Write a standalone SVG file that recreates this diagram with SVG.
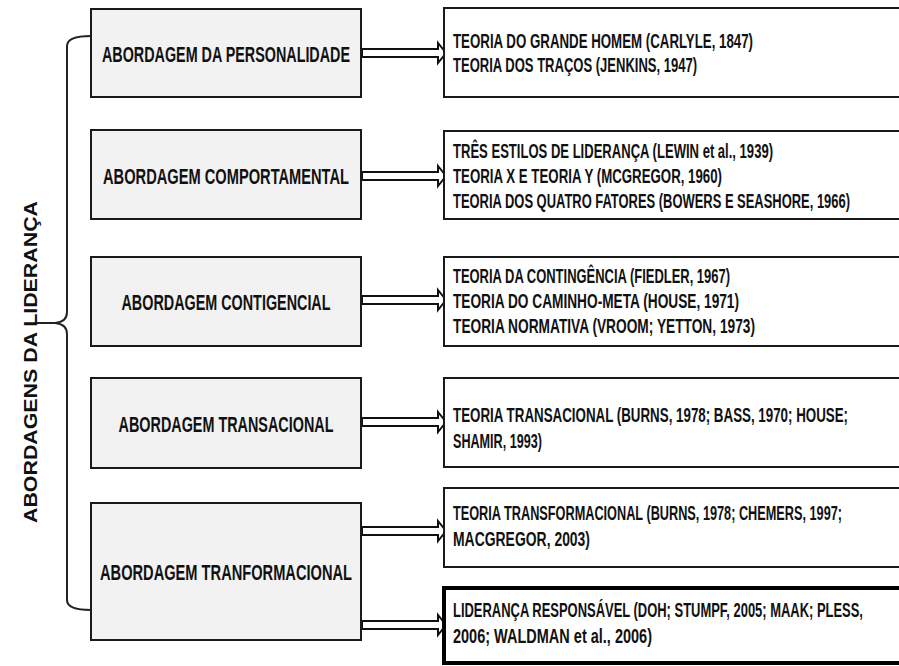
<svg xmlns="http://www.w3.org/2000/svg" width="899" height="666" viewBox="0 0 899 666">
<style>
.lb{fill:#f2f2f2;stroke:#1a1a1a;stroke-width:2}
.rb{fill:#fff;stroke:#1a1a1a;stroke-width:2}
.rbt{fill:#fff;stroke:#000;stroke-width:4}
.lt{font-family:"Liberation Sans",Arial,sans-serif;font-weight:bold;font-size:22.5px;fill:#111;text-anchor:middle}
.rt{font-family:"Liberation Sans",Arial,sans-serif;font-weight:bold;font-size:19.5px;fill:#111}
.arr{fill:#fff;stroke:#111;stroke-width:2;stroke-linejoin:miter}
.brace{fill:none;stroke:#222;stroke-width:2}
.title{font-family:"Liberation Sans",Arial,sans-serif;font-weight:bold;font-size:19px;fill:#111;text-anchor:middle}
</style>
<rect width="899" height="666" fill="#fff"/>
<g id="connectors">
<path class="arr" d="M362,49 H438 V43 L446,53 L438,63 V57 H362 Z"/>
<path class="arr" d="M362,172 H438 V166 L446,176 L438,186 V180 H362 Z"/>
<path class="arr" d="M362,296 H438 V290 L446,300 L438,310 V304 H362 Z"/>
<path class="arr" d="M362,418 H438 V412 L446,422 L438,432 V426 H362 Z"/>
<path class="arr" d="M362,527 H438 V521 L446,531 L438,541 V535 H362 Z"/>
<path class="arr" d="M362,621 H438 V615 L446,625 L438,635 V629 H362 Z"/>
<path class="brace" d="M91,36 Q67,36 67,46 L67,312 Q67,322 55,323 L36,323 M55,323 Q67,324 67,334 L67,600 Q67,610 91,610"/>
</g>
<g id="title">
<text class="title" transform="translate(37,362) rotate(-90)" textLength="322" lengthAdjust="spacingAndGlyphs">ABORDAGENS DA LIDERANÇA</text>
</g>
<g id="personalidade">
<rect class="lb" x="91" y="9" width="270" height="88"/>
<text class="lt" transform="matrix(0.64 0 0 1 226 62)" textLength="387.5" lengthAdjust="spacingAndGlyphs">ABORDAGEM DA PERSONALIDADE</text>
</g>
<g id="comportamental">
<rect class="lb" x="91" y="130" width="270" height="89"/>
<text class="lt" transform="matrix(0.64 0 0 1 226 184)" textLength="384.4" lengthAdjust="spacingAndGlyphs">ABORDAGEM COMPORTAMENTAL</text>
</g>
<g id="contigencial">
<rect class="lb" x="91" y="257" width="270" height="89"/>
<text class="lt" transform="matrix(0.64 0 0 1 226 310)" textLength="326.6" lengthAdjust="spacingAndGlyphs">ABORDAGEM CONTIGENCIAL</text>
</g>
<g id="transacional">
<rect class="lb" x="91" y="378" width="270" height="90"/>
<text class="lt" transform="matrix(0.64 0 0 1 226 432)" textLength="335.9" lengthAdjust="spacingAndGlyphs">ABORDAGEM TRANSACIONAL</text>
</g>
<g id="transformacional">
<rect class="lb" x="91" y="503" width="270" height="137"/>
<text class="lt" transform="matrix(0.64 0 0 1 226 580)" textLength="393.8" lengthAdjust="spacingAndGlyphs">ABORDAGEM TRANFORMACIONAL</text>
</g>
<g id="r-personalidade">
<rect class="rb" x="444" y="8" width="456" height="89"/>
<text class="rt" transform="matrix(0.67 0 0 1 453 48)" textLength="447.8" lengthAdjust="spacingAndGlyphs">TEORIA DO GRANDE HOMEM (CARLYLE, 1847)</text>
<text class="rt" transform="matrix(0.67 0 0 1 453 72)" textLength="364.2" lengthAdjust="spacingAndGlyphs">TEORIA DOS TRAÇOS (JENKINS, 1947)</text>
</g>
<g id="r-comportamental">
<rect class="rb" x="444" y="131" width="456" height="88"/>
<text class="rt" transform="matrix(0.67 0 0 1 453 158)" textLength="477.6" lengthAdjust="spacingAndGlyphs">TRÊS ESTILOS DE LIDERANÇA (LEWIN et al., 1939)</text>
<text class="rt" transform="matrix(0.67 0 0 1 453 183)" textLength="401.5" lengthAdjust="spacingAndGlyphs">TEORIA X E TEORIA Y (MCGREGOR, 1960)</text>
<text class="rt" transform="matrix(0.67 0 0 1 453 208)" textLength="592.5" lengthAdjust="spacingAndGlyphs">TEORIA DOS QUATRO FATORES (BOWERS E SEASHORE, 1966)</text>
</g>
<g id="r-contigencial">
<rect class="rb" x="444" y="257" width="456" height="89"/>
<text class="rt" transform="matrix(0.67 0 0 1 453 283)" textLength="413.4" lengthAdjust="spacingAndGlyphs">TEORIA DA CONTINGÊNCIA (FIEDLER, 1967)</text>
<text class="rt" transform="matrix(0.67 0 0 1 453 308)" textLength="426.9" lengthAdjust="spacingAndGlyphs">TEORIA DO CAMINHO-META (HOUSE, 1971)</text>
<text class="rt" transform="matrix(0.67 0 0 1 453 333)" textLength="450.7" lengthAdjust="spacingAndGlyphs">TEORIA NORMATIVA (VROOM; YETTON, 1973)</text>
</g>
<g id="r-transacional">
<rect class="rb" x="444" y="378" width="456" height="89"/>
<text class="rt" transform="matrix(0.67 0 0 1 453 422)" textLength="589.6" lengthAdjust="spacingAndGlyphs">TEORIA TRANSACIONAL (BURNS, 1978; BASS, 1970;  HOUSE;</text>
<text class="rt" transform="matrix(0.67 0 0 1 453 448)" textLength="132.8" lengthAdjust="spacingAndGlyphs">SHAMIR, 1993)</text>
</g>
<g id="r-transformacional">
<rect class="rb" x="444" y="488" width="456" height="79"/>
<text class="rt" transform="matrix(0.67 0 0 1 453 520)" textLength="580.6" lengthAdjust="spacingAndGlyphs">TEORIA TRANSFORMACIONAL (BURNS, 1978; CHEMERS, 1997;</text>
<text class="rt" transform="matrix(0.67 0 0 1 453 546)" textLength="204.5" lengthAdjust="spacingAndGlyphs">MACGREGOR, 2003)</text>
</g>
<g id="r-responsavel">
<rect class="rbt" x="444" y="588" width="458" height="75"/>
<text class="rt" transform="matrix(0.67 0 0 1 453 617)" textLength="611.9" lengthAdjust="spacingAndGlyphs">LIDERANÇA RESPONSÁVEL (DOH; STUMPF, 2005; MAAK; PLESS,</text>
<text class="rt" transform="matrix(0.67 0 0 1 453 643)" textLength="297" lengthAdjust="spacingAndGlyphs">2006; WALDMAN et al., 2006)</text>
</g>
</svg>
